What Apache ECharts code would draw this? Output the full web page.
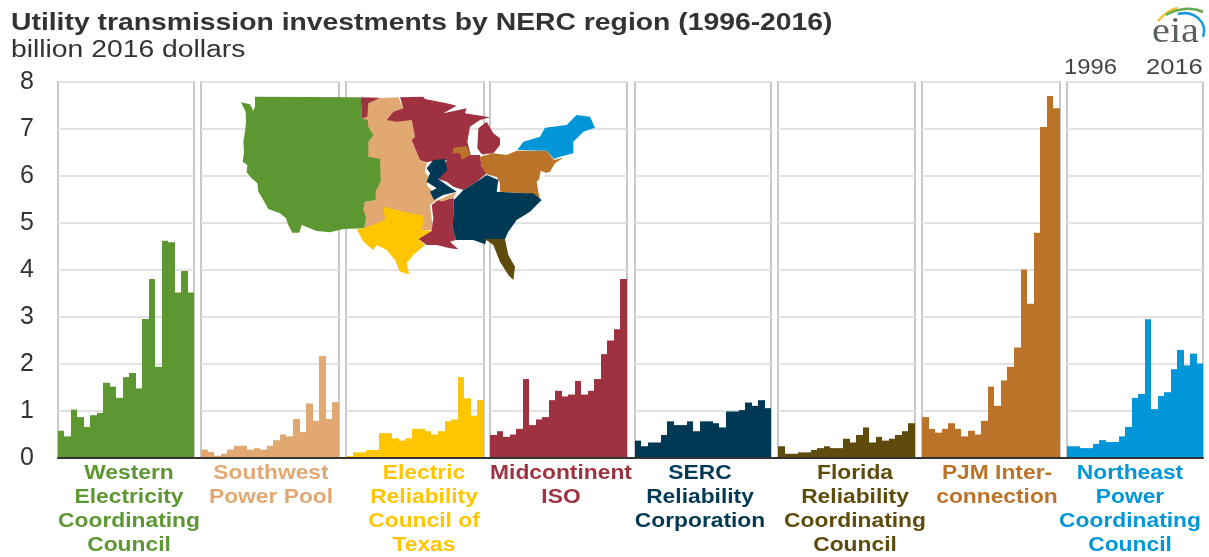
<!DOCTYPE html>
<html>
<head>
<meta charset="utf-8">
<style>
  html, body { margin: 0; padding: 0; background: #fff; }
  #chart { width: 1209px; height: 557px; }
</style>
<script src="https://cdn.jsdelivr.net/npm/echarts@6/dist/echarts.min.js"></script>
</head>
<body>
<div id="chart"></div>
<script>
// values in billion 2016 dollars
const years = ['1996','1997','1998','1999','2000','2001','2002','2003','2004','2005','2006',
  '2007','2008','2009','2010','2011','2012','2013','2014','2015','2016'];
const yTicks = ['0','1','2','3','4','5','6','7','8'];

const wecc = [.58,.46,1.03,.87,.66,.91,.96,1.60,1.52,1.28,1.72,1.81,1.48,2.96,3.81,1.94,4.62,4.59,3.52,3.98,3.52];
const spp = [.18,.13,.05,.09,.18,.26,.26,.18,.21,.18,.26,.38,.50,.46,.83,.55,1.16,.79,2.17,.83,1.19];
const ercot = [.04,.12,.12,.17,.17,.53,.53,.42,.37,.42,.62,.62,.57,.50,.57,.78,.82,1.72,1.27,.90,1.23];
const miso = [.49,.57,.45,.50,.62,1.68,.70,.82,.87,1.23,1.43,1.31,1.35,1.64,1.35,1.43,1.68,2.21,2.50,2.74,3.81];
const serc = [.37,.25,.33,.33,.49,.78,.70,.70,.78,.57,.78,.78,.74,.65,.99,.99,1.02,1.18,1.11,1.23,1.06];
const frcc = [.25,.09,.09,.12,.12,.17,.21,.25,.21,.21,.41,.33,.49,.65,.33,.45,.37,.41,.49,.57,.74];
const pjm = [.87,.62,.54,.62,.74,.62,.46,.58,.50,.79,1.52,1.11,1.65,1.94,2.35,4.01,3.28,4.79,7.04,7.70,7.44];
const npcc = [.25,.25,.21,.21,.30,.38,.34,.34,.46,.66,1.28,1.36,2.95,1.04,1.32,1.40,1.89,2.30,1.97,2.22,2.01];

const regionNames = [
  'Western\nElectricity\nCoordinating\nCouncil',
  'Southwest\nPower Pool',
  'Electric\nReliability\nCouncil of\nTexas',
  'Midcontinent\nISO',
  'SERC\nReliability\nCorporation',
  'Florida\nReliability\nCoordinating\nCouncil',
  'PJM Inter-\nconnection',
  'Northeast\nPower\nCoordinating\nCouncil'
];
const regionValues = [wecc, spp, ercot, miso, serc, frcc, pjm, npcc];
const regionColors = ['#5d9732','#e1a971','#ffc600','#9f3240','#003953','#5f4b0b','#bb7329','#0096d7'];

// panel edges in px
const panelLeft = [58, 201, 346, 490, 635, 778, 922, 1067];
const panelRight = [194, 339, 484, 627, 771, 915, 1060, 1203];
const labelCenter = [129, 271, 424, 561, 700, 855, 997, 1130];

const plotTop = 82, plotBottom = 458;

const grids = [], xAxes = [], yAxes = [], series = [], texts = [];

// the reference is stretched sideways, so the text is too
function addText(str, x, y, size, weight, color, stretch, align, family, lineHeight) {
  texts.push({
    type: 'text', x: x, y: y, scaleX: stretch, silent: true, z: 21,
    style: {
      text: str, textAlign: align || 'left', textVerticalAlign: 'top',
      fontFamily: family || 'Liberation Sans', fontSize: size, fontWeight: weight,
      lineHeight: lineHeight || size + 2, fill: color
    }
  });
}

// touching columns, edges snapped to whole pixels so no seams show
function stepBar(color) {
  return function (params, api) {
    const base = api.coord([api.value(0), 0]);
    const top = api.coord([api.value(0), api.value(1)]);
    const w = api.size([1, 0])[0];
    const x0 = Math.round(base[0] - w / 2), x1 = Math.round(base[0] + w / 2);
    return {
      type: 'rect',
      shape: { x: x0, y: top[1], width: x1 - x0, height: base[1] - top[1] },
      style: { fill: color }
    };
  };
}

// full-width backing grid: y tick labels and the dark baseline
grids.push({ left: 58, width: 1145, top: plotTop, height: plotBottom - plotTop });
xAxes.push({
  gridIndex: 0, type: 'category', data: [], z: 6,
  axisLine: { show: true, lineStyle: { color: '#333', width: 2 } },
  axisTick: { show: false }, axisLabel: { show: false }
});
yAxes.push({
  gridIndex: 0, type: 'value', min: 0, max: 8, interval: 1,
  axisLine: { show: false }, axisTick: { show: false }, splitLine: { show: false },
  axisLabel: {
    margin: 24, fontFamily: 'Liberation Sans', fontSize: 25, color: '#333',
    formatter: v => yTicks[v]
  }
});

regionValues.forEach((vals, i) => {
  const g = i + 1;
  grids.push({
    show: true, left: panelLeft[i], width: panelRight[i] - panelLeft[i],
    top: plotTop, height: plotBottom - plotTop,
    borderColor: '#c9c9c9', borderWidth: 2, backgroundColor: 'transparent'
  });
  xAxes.push({
    gridIndex: g, type: 'category', data: years,
    axisLine: { show: false }, axisTick: { show: false }, axisLabel: { show: false }
  });
  yAxes.push({
    gridIndex: g, type: 'value', min: 0, max: 8, interval: 1,
    axisLine: { show: false }, axisTick: { show: false }, axisLabel: { show: false },
    splitLine: { show: true, lineStyle: { color: '#e2e2e2', width: 2 } }
  });
  series.push({
    type: 'custom', xAxisIndex: g, yAxisIndex: g, z: 3, silent: true, clip: false,
    data: vals.map((v, k) => [k, v]),
    encode: { x: 0, y: 1 },
    renderItem: stepBar(regionColors[i])
  });
  addText(regionNames[i], labelCenter[i], 461, 20, 'bold', regionColors[i], 1.14, 'center', null, 24);
});

addText('Utility transmission investments by NERC region (1996-2016)', 11, 10, 24, 'bold', '#333', 1.18);
addText('billion 2016 dollars', 11, 38, 23, 'normal', '#333', 1.23);
addText('1996', 1064, 56, 22, 'normal', '#444', 1.08);
addText('2016', 1146, 56, 22, 'normal', '#444', 1.16);
addText('eia', 1152, 14, 36, 'normal', '#5a6165', 1.12, 'left', 'Liberation Serif');

// inset map of NERC regions, traced by hand (not data)
const mapShapes = [
  ['#e1a971', [[396,100],[415,55],[440,40],[505,37],[520,70],[490,80],[470,105],[545,105],[555,155],[545,165],[570,225],[590,232],[585,262],[600,280],[590,300],[610,320],[620,345],[600,360],[605,400],[610,435],[575,435],[403,430],[400,375],[405,350],[437,345]]],
  ['#5d9732', [[75,35],[392,37],[396,100],[413,105],[415,125],[430,150],[415,170],[415,215],[450,222],[452,290],[437,318],[437,345],[405,350],[400,375],[408,395],[403,430],[340,432],[300,442],[260,438],[215,420],[208,443],[187,443],[175,420],[168,400],[150,385],[115,372],[100,345],[85,320],[82,295],[65,280],[50,262],[52,240],[38,230],[42,200],[40,170],[45,140],[48,110],[47,80],[33,52],[60,58],[70,77],[75,65]]],
  ['#9f3240', [[392,37],[450,38],[415,55],[412,95],[396,100]]],
  ['#9f3240', [[510,37],[580,35],[585,42],[650,55],[680,62],[640,85],[710,70],[705,85],[780,97],[750,105],[720,125],[712,170],[722,210],[750,210],[755,245],[770,265],[740,290],[700,315],[670,305],[650,290],[625,282],[640,255],[650,225],[625,225],[590,232],[570,225],[545,165],[555,155],[545,105],[500,110],[470,105],[490,80],[520,70]]],
  ['#9f3240', [[745,130],[770,110],[790,145],[810,160],[810,180],[790,205],[755,208],[742,190]]],
  ['#9f3240', [[605,360],[625,345],[672,340],[668,430],[678,465],[660,470],[685,493],[660,490],[620,480],[590,480],[565,462],[605,437],[610,400]]],
  ['#003953', [[590,250],[610,225],[645,222],[652,255],[625,282],[650,300],[680,320],[640,330],[612,345],[600,320],[620,310],[590,290],[600,265]]],
  ['#bb7329', [[750,215],[790,205],[830,210],[860,197],[950,197],[972,225],[1000,218],[975,235],[960,260],[945,265],[920,290],[925,320],[930,345],[905,340],[890,325],[810,320],[810,295],[800,275],[770,268],[755,245]]],
  ['#bb7329', [[670,188],[710,183],[720,210],[695,225],[690,205],[668,205]]],
  ['#003953', [[770,270],[805,285],[800,320],[890,325],[910,325],[935,345],[900,380],[860,405],[835,440],[825,462],[770,462],[765,478],[730,465],[678,465],[668,430],[672,345],[700,315],[740,290]]],
  ['#e1a971', [[625,345],[680,320],[670,338],[635,350]]],
  ['#ffffff', [[932,258],[946,262],[938,300],[926,292]]],
  ['#0096d7', [[862,195],[880,170],[930,155],[945,128],[1010,120],[1040,90],[1080,95],[1095,128],[1060,140],[1030,170],[1030,205],[990,215],[972,222],[950,197],[870,195]]],
  ['#ffc600', [[380,432],[403,430],[465,405],[460,365],[520,380],[580,392],[580,410],[575,435],[605,437],[565,462],[585,480],[550,510],[530,535],[538,568],[510,560],[495,525],[470,495],[440,480],[430,495],[400,470]]],
  ['#5f4b0b', [[765,462],[825,462],[835,510],[855,545],[850,585],[835,570],[810,530],[790,480]]]
];

const chart = echarts.init(document.getElementById('chart'));
chart.setOption({
  animation: false,
  backgroundColor: '#fff',
  grid: grids,
  xAxis: xAxes,
  yAxis: yAxes,
  series: series,
  graphic: [
    {
      type: 'group', x: 230, y: 85, scaleX: 1 / 3, scaleY: 1 / 3, silent: true,
      children: mapShapes.map(s => ({
        type: 'polygon', z: 20, shape: { points: s[1] }, style: { fill: s[0] }
      }))
    },
    { type: 'bezierCurve', silent: true, z: 20,
      shape: { x1: 1158, y1: 21, x2: 1178, y2: 8, cpx1: 1164, cpy1: 14, cpx2: 1170, cpy2: 9 },
      style: { stroke: '#f3c53c', lineWidth: 2.5, fill: null } },
    { type: 'bezierCurve', silent: true, z: 20,
      shape: { x1: 1166, y1: 15, x2: 1203, y2: 12, cpx1: 1178, cpy1: 8, cpx2: 1192, cpy2: 7 },
      style: { stroke: '#6aa84f', lineWidth: 2.5, fill: null } },
    { type: 'bezierCurve', silent: true, z: 20,
      shape: { x1: 1178, y1: 14, x2: 1203, y2: 37, cpx1: 1194, cpy1: 10, cpx2: 1208, cpy2: 22 },
      style: { stroke: '#1a9ad6', lineWidth: 2.5, fill: null } }
  ].concat(texts)
});
</script>
</body>
</html>
